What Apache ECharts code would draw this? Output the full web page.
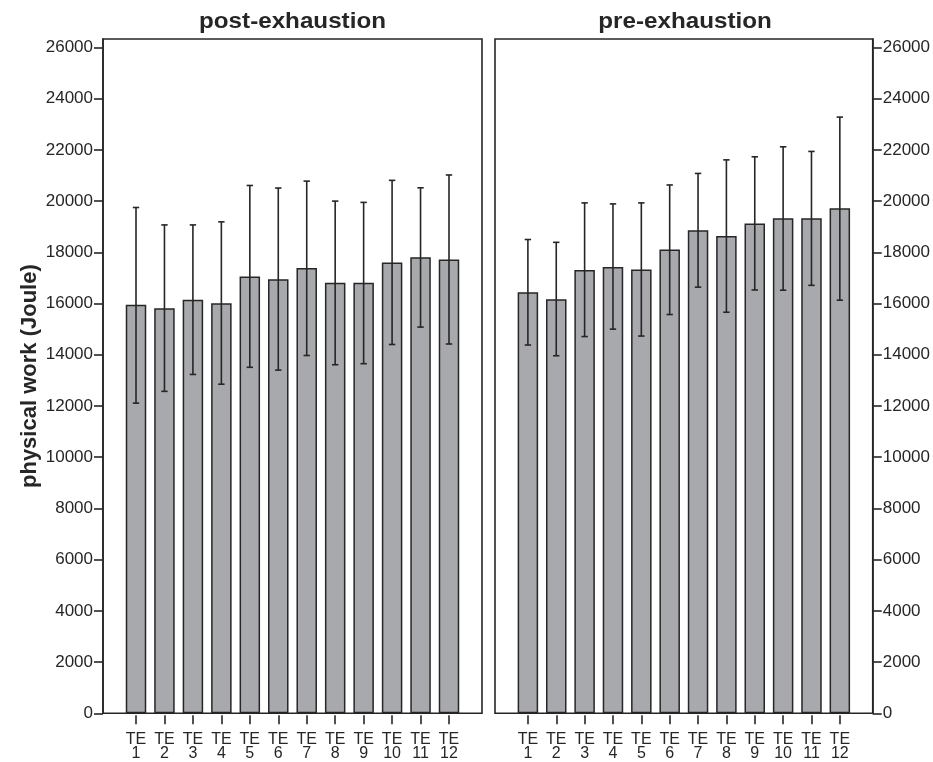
<!DOCTYPE html>
<html>
<head>
<meta charset="utf-8">
<script src="https://cdn.jsdelivr.net/npm/echarts@6/dist/echarts.min.js"></script>
<style>
html,body{margin:0;padding:0;background:#fff;}
#chart{width:933px;height:762px;}
</style>
</head>
<body>
<div id="chart"></div>
<script>
// ---- data ----
const categories = ['TE\n1','TE\n2','TE\n3','TE\n4','TE\n5','TE\n6','TE\n7','TE\n8','TE\n9','TE\n10','TE\n11','TE\n12'];
const panelTitles = ['post-exhaustion', 'pre-exhaustion'];
const yTickValues = [0,2000,4000,6000,8000,10000,12000,14000,16000,18000,20000,22000,24000,26000];
const yAxisName = 'physical work (Joule)';

const postMean  = [15950, 15820, 16150, 16010, 17060, 16950, 17390, 16810, 16810, 17600, 17810, 17720];
const postUpper = [19750, 19070, 19070, 19190, 20610, 20510, 20780, 20000, 19950, 20810, 20520, 21020];
const postLower = [12110, 12570, 13230, 12850, 13510, 13400, 13970, 13610, 13650, 14400, 15080, 14420];

const preMean  = [16440, 16170, 17310, 17430, 17330, 18110, 18860, 18640, 19130, 19330, 19330, 19720];
const preUpper = [18500, 18390, 19930, 19890, 19930, 20630, 21080, 21610, 21730, 22120, 21940, 23280];
const preLower = [14380, 13960, 14710, 15000, 14730, 15570, 16640, 15660, 16530, 16520, 16710, 16130];

// ---- build ----
const FONT = "'Liberation Sans', Arial, Helvetica, sans-serif";
const INK = '#262626';
const catPositions = categories.map((c, i) => i + 1);

function barData(vals) { return vals.map((v, i) => [catPositions[i], v]); }
function errData(lo, hi) { return lo.map((v, i) => [catPositions[i], v, hi[i]]); }

function errorRender(params, api) {
  const x = api.value(0);
  const pLo = api.coord([x, api.value(1)]);
  const pHi = api.coord([x, api.value(2)]);
  const cap = 3.2;
  const style = { stroke: INK, lineWidth: 1.6 };
  return {
    type: 'group',
    children: [
      { type: 'line', shape: { x1: pLo[0], y1: pLo[1], x2: pHi[0], y2: pHi[1] }, style },
      { type: 'line', shape: { x1: pHi[0] - cap, y1: pHi[1], x2: pHi[0] + cap, y2: pHi[1] }, style },
      { type: 'line', shape: { x1: pLo[0] - cap, y1: pLo[1], x2: pLo[0] + cap, y2: pLo[1] }, style }
    ]
  };
}

const grids = [
  { left: 103, top: 39, width: 379, height: 675, show: true, borderColor: INK, borderWidth: 1.6, backgroundColor: '#fff' },
  { left: 495, top: 39, width: 380, height: 675, show: true, borderColor: INK, borderWidth: 1.6, backgroundColor: '#fff' }
];

function xAxisFor(gi) {
  return {
    type: 'value', gridIndex: gi, min: -0.16, max: 13.16, offset: 2,
    axisLine: { show: false, onZero: false },
    splitLine: { show: false },
    axisTick: { show: true, customValues: catPositions, length: 9, lineStyle: { color: INK, width: 1.6 } },
    axisLabel: {
      customValues: catPositions, margin: 17,
      formatter: v => categories[Math.round(v) - 1] || '',
      color: INK, fontFamily: FONT, fontSize: 16, lineHeight: 14.5
    }
  };
}

function yAxisFor(gi, pos, withName) {
  const ax = {
    type: 'value', gridIndex: gi, position: pos, min: 0, max: 26330,
    axisLine: { show: true, onZero: false, lineStyle: { color: INK, width: 1.6 } },
    splitLine: { show: false },
    axisTick: { show: true, customValues: yTickValues, length: 9, lineStyle: { color: INK, width: 1.6 } },
    axisLabel: { customValues: yTickValues, margin: 10, formatter: v => String(v), color: INK, fontFamily: FONT, fontSize: 17 }
  };
  if (withName) {
    Object.assign(ax, {
      name: yAxisName, nameLocation: 'middle', nameRotate: 90, nameGap: 62,
      nameTextStyle: { color: INK, fontFamily: FONT, fontSize: 22, fontWeight: 'bold' }
    });
  }
  return ax;
}

const barStyle = { color: '#a8a9ad', borderColor: INK, borderWidth: 1.5 };

const option = {
  backgroundColor: '#fff',
  animation: false,
  grid: grids,
  xAxis: [xAxisFor(0), xAxisFor(1)],
  yAxis: [yAxisFor(0, 'left', true), yAxisFor(1, 'right', false)],
  graphic: [
    { type: 'text', x: 292.5, y: 21.5, scaleX: 1.1, originX: 0, style: { text: panelTitles[0], fill: INK, font: 'bold 22px ' + FONT, align: 'center', verticalAlign: 'middle' } },
    { type: 'text', x: 685, y: 21.5, scaleX: 1.1, originX: 0, style: { text: panelTitles[1], fill: INK, font: 'bold 22px ' + FONT, align: 'center', verticalAlign: 'middle' } }
  ],
  series: [
    { type: 'bar', xAxisIndex: 0, yAxisIndex: 0, barWidth: 20.5, itemStyle: barStyle, data: barData(postMean) },
    { type: 'custom', xAxisIndex: 0, yAxisIndex: 0, renderItem: errorRender, data: errData(postLower, postUpper), z: 5 },
    { type: 'bar', xAxisIndex: 1, yAxisIndex: 1, barWidth: 20.5, itemStyle: barStyle, data: barData(preMean) },
    { type: 'custom', xAxisIndex: 1, yAxisIndex: 1, renderItem: errorRender, data: errData(preLower, preUpper), z: 5 }
  ]
};

const chart = echarts.init(document.getElementById('chart'), null, { renderer: 'canvas' });
chart.setOption(option);
</script>
</body>
</html>
